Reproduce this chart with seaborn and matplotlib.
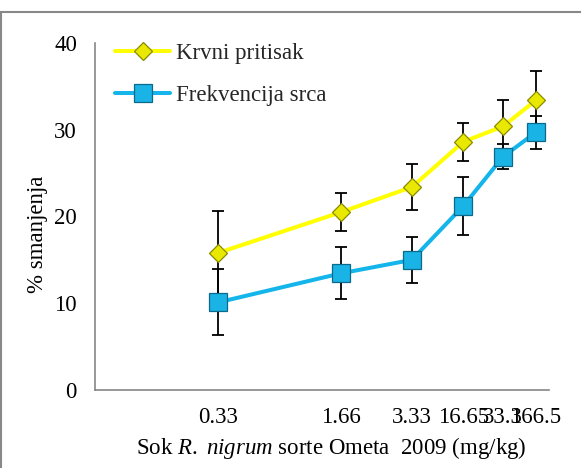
import numpy as np
import pandas as pd
import matplotlib
matplotlib.use("Agg")
import matplotlib.pyplot as plt
from matplotlib.lines import Line2D
import seaborn as sns

# doses (tick labels) and where Excel put them along the axis (axis runs 0..10)
doses = ["0.33", "1.66", "3.33", "16.65", "33.3", "166.5"]
dose_pos = [2.71, 5.42, 6.98, 8.11, 8.99, 9.71]
tick_marks = [0.0, 4.27, 6.28, 7.58, 8.57, 9.36, 10.0]

krvni = [15.8, 20.5, 23.4, 28.6, 30.4, 33.4]
krvni_err = [4.8, 2.2, 2.65, 2.2, 3.0, 3.4]
frekv = [10.1, 13.45, 15.0, 21.2, 26.9, 29.7]
frekv_err = [3.8, 3.0, 2.65, 3.3, 1.4, 1.9]

series = ["Krvni pritisak", "Frekvencija srca"]

df = pd.DataFrame({
    "x": dose_pos * 2,
    "y": krvni + frekv,
    "serija": [series[0]] * 6 + [series[1]] * 6,
})

sns.set_theme(style="white")
plt.rcParams["font.family"] = ["Liberation Serif", "DejaVu Serif"]
plt.rcParams["mathtext.fontset"] = "custom"
plt.rcParams["mathtext.it"] = "Liberation Serif:italic"
plt.rcParams["mathtext.rm"] = "Liberation Serif"

FS = 16.5
line_cols = {"Krvni pritisak": "#FFFF00", "Frekvencija srca": "#13B5EA"}
face_cols = {"Krvni pritisak": "#E8E800", "Frekvencija srca": "#1AB3E6"}
edge_cols = {"Krvni pritisak": "#8A8A00", "Frekvencija srca": "#0B6A8A"}
markers = {"Krvni pritisak": "D", "Frekvencija srca": "s"}
msizes = {"Krvni pritisak": 9.0, "Frekvencija srca": 12.5}

fig = plt.figure(figsize=(5.81, 4.68), dpi=100)
ax = fig.add_axes([95 / 581, 1 - 390 / 468, 454 / 581, 347 / 468])

# error bars behind the markers
for vals, errs in [(krvni, krvni_err), (frekv, frekv_err)]:
    ax.errorbar(dose_pos, vals, yerr=errs, fmt="none", ecolor="black",
                elinewidth=1.3, capsize=4.5, capthick=1.3, zorder=2)

sns.lineplot(data=df, x="x", y="y", hue="serija", palette=line_cols,
             linewidth=2.9, legend=False, ax=ax, zorder=3)
for s, vals in zip(series, [krvni, frekv]):
    ax.plot(dose_pos, vals, linestyle="none", marker=markers[s],
            markersize=msizes[s], markerfacecolor=face_cols[s],
            markeredgecolor=edge_cols[s], markeredgewidth=0.9, zorder=4)

ax.set_xlim(0, 10)
ax.set_ylim(0, 40)
ax.set_yticks([0, 10, 20, 30, 40])
ax.set_xticks(dose_pos)
ax.set_xticklabels(doses)
ax.set_xticks(tick_marks, minor=True)
ax.tick_params(axis="x", which="major", length=0, pad=12, labelsize=FS, colors="black")
ax.tick_params(axis="x", which="minor", length=5, width=1.2, color="#868686", direction="out")
ax.tick_params(axis="y", length=5, width=1.2, color="#868686", direction="out",
               labelsize=FS, labelcolor="black", pad=8)

for side in ["top", "right"]:
    ax.spines[side].set_visible(False)
for side in ["left", "bottom"]:
    ax.spines[side].set_color("#868686")
    ax.spines[side].set_linewidth(1.2)

ax.set_xlabel(r"Sok $\mathit{R.}$ $\mathit{nigrum}$ sorte Ometa  2009 (mg/kg)",
              fontsize=FS, color="black")
ax.xaxis.set_label_coords(0.52, -0.13)
ax.set_ylabel("% smanjenja", fontsize=FS, color="black")
ax.yaxis.set_label_coords(-0.104, 0.45)

handles = [
    Line2D([], [], color=line_cols[s], linewidth=2.9, marker=markers[s],
           markersize=msizes[s], markerfacecolor=face_cols[s],
           markeredgecolor=edge_cols[s], markeredgewidth=0.9)
    for s in series
]
ax.legend(handles, series, loc="upper left", bbox_to_anchor=(104 / 581, 1 - 32 / 468),
          bbox_transform=fig.transFigure, frameon=False, fontsize=FS,
          handlelength=2.4, handletextpad=0.22, labelspacing=0.88, borderpad=0)

# outer chart border (only left and top are visible in the crop)
fig.add_artist(Line2D([1 / 581, 1 / 581], [0, 1 - 12 / 468], color="#888888",
                      linewidth=1.5, transform=fig.transFigure))
fig.add_artist(Line2D([0, 1], [1 - 12 / 468, 1 - 12 / 468], color="#888888",
                      linewidth=1.5, transform=fig.transFigure))

fig.savefig("out.png", dpi=100)
